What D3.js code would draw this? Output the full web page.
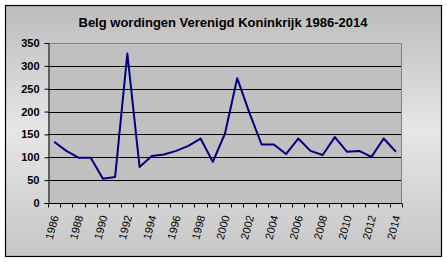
<!DOCTYPE html>
<html><head><meta charset="utf-8">
<script src="https://cdn.jsdelivr.net/npm/d3@7"></script>
<style>html,body{margin:0;padding:0;background:#fff;}svg{display:block;}</style>
</head><body>
<script>
const title = "Belg wordingen Verenigd Koninkrijk 1986-2014";
const years = d3.range(1986, 2015);
const values = [134,114,99,99,53,57,327,79,103,106,114,125,141,90,152,273,197,128,128,107,141,114,105,144,112,114,101,141,112];
const yTicks = [0,50,100,150,200,250,300,350];
const xTickLabels = years.filter(y => (y - 1986) % 2 === 0);

const W = 447, H = 262;
const plot = {l:48, t:43, r:402, b:203};

const svg = d3.select("body").append("svg").attr("width", W).attr("height", H);
const defs = svg.append("defs");
const g1 = defs.append("linearGradient").attr("id","bg").attr("x1",0).attr("y1",0).attr("x2",0).attr("y2",1);
g1.append("stop").attr("offset","0%").attr("stop-color","#bcbcbc");
g1.append("stop").attr("offset","50%").attr("stop-color","#e6e6e6");
g1.append("stop").attr("offset","100%").attr("stop-color","#c6c6c6");

svg.append("rect").attr("x",5.5).attr("y",5.5).attr("width",436).attr("height",251)
  .attr("fill","url(#bg)").attr("stroke","#000").attr("stroke-width",1.2);

svg.append("text").attr("x",223).attr("y",27).attr("text-anchor","middle")
  .attr("font-family","Liberation Sans, Arial, sans-serif").attr("font-weight","bold")
  .attr("font-size",13).attr("fill","#000").text(title);

const x = d3.scaleBand().domain(years).range([plot.l, plot.r]);
const y = d3.scaleLinear().domain([0,350]).range([plot.b, plot.t]);

svg.append("rect").attr("x",plot.l).attr("y",plot.t).attr("width",plot.r-plot.l).attr("height",plot.b-plot.t)
  .attr("fill","#c0c0c0");
svg.append("g").selectAll("line").data(yTicks.filter(v => v>0 && v<350)).join("line")
  .attr("x1",plot.l).attr("x2",plot.r).attr("y1",d=>Math.round(y(d))+0.5).attr("y2",d=>Math.round(y(d))+0.5)
  .attr("stroke","#000").attr("stroke-width",1);
svg.append("path").attr("d",`M${plot.l},${plot.t+0.5}H${plot.r-0.5}V${plot.b}`)
  .attr("fill","none").attr("stroke","#808080").attr("stroke-width",1);

const yAxis = d3.axisLeft(y).tickValues(yTicks).tickSize(4).tickPadding(5);
const ga = svg.append("g").attr("transform",`translate(${plot.l+0.5},0)`).call(yAxis);
ga.select(".domain").attr("stroke","#000");
ga.selectAll(".tick line").attr("stroke","#000");
ga.selectAll("text").attr("font-family","Liberation Sans, Arial, sans-serif").attr("font-weight","bold")
  .attr("font-size",11).attr("fill","#000");

const xb = svg.append("g").attr("transform",`translate(0,${plot.b+0.5})`);
xb.append("line").attr("x1",plot.l).attr("x2",plot.r).attr("stroke","#000");
const bounds = years.map(d => x(d)).concat([plot.r]);
xb.selectAll("line.t").data(bounds).join("line").attr("class","t")
  .attr("x1",d=>Math.round(d)+0.5).attr("x2",d=>Math.round(d)+0.5).attr("y1",0).attr("y2",4).attr("stroke","#000");
xb.selectAll("text").data(xTickLabels).join("text")
  .attr("transform",d=>`translate(${x(d)+x.bandwidth()/2+1},${12}) rotate(-75)`)
  .attr("text-anchor","end").attr("dy","0.35em")
  .attr("font-family","Liberation Sans, Arial, sans-serif").attr("font-size",11).attr("fill","#000")
  .text(d=>d);

const line = d3.line().x((d,i)=>x(years[i])+x.bandwidth()/2).y(d=>y(d));
svg.append("path").datum(values).attr("d",line).attr("fill","none")
  .attr("stroke","#000080").attr("stroke-width",2).attr("stroke-linejoin","round");
</script>
</body></html>
